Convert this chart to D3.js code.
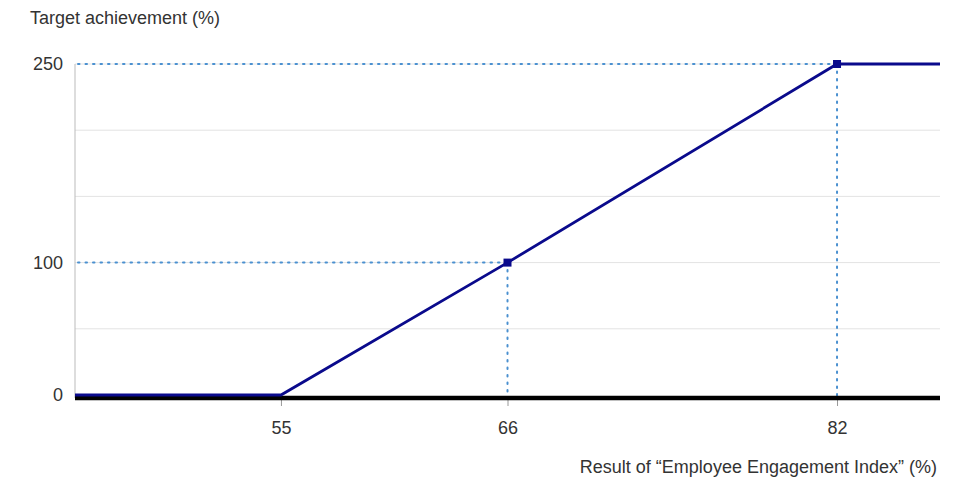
<!DOCTYPE html>
<html><head><meta charset="utf-8">
<script src="https://cdn.jsdelivr.net/npm/d3@7"></script>
<style>body{margin:0;background:#fff}text{font-family:"Liberation Sans",Arial,sans-serif;fill:#333}</style>
</head><body><svg id="c" width="968" height="483"></svg>
<script>
const xValues = [45, 55, 66, 82, 87];
const yValues = [0, 0, 100, 250, 250];
const markerX = [66, 82];
const markerY = [100, 250];
const xTicks = [55, 66, 82];
const yTickLabels = [0, 100, 250];
const yGrid = [50, 100, 150, 200, 250];
const yTitle = "Target achievement (%)";
const xTitle = "Result of \u201cEmployee Engagement Index\u201d (%)";

const svg = d3.select("#c");
const L = 75, R = 940, T = 64, B = 395;
const x = d3.scaleLinear().domain([45, 87]).range([L, R]);
const y = d3.scaleLinear().domain([0, 250]).range([B, T]);
const FS = 18;

// gridlines
svg.append("g").selectAll("line").data(yGrid).join("line")
  .attr("x1", L).attr("x2", R).attr("y1", d => y(d)).attr("y2", d => y(d))
  .attr("stroke", "#e3e3e3").attr("stroke-width", 1);

// y axis line
svg.append("line").attr("x1", L).attr("x2", L).attr("y1", T).attr("y2", B + 3)
  .attr("stroke", "#bbb").attr("stroke-width", 1);

// y labels
svg.append("g").selectAll("text").data(yTickLabels).join("text")
  .attr("x", L - 12).attr("y", d => y(d)).attr("dy", "0.35em")
  .attr("text-anchor", "end").attr("font-size", FS).text(d => d);

// x ticks
const xAxis = d3.axisBottom(x).tickValues(xTicks).tickSize(8).tickPadding(15).tickFormat(d3.format("d"));
const gx = svg.append("g").attr("transform", `translate(0,${B + 3})`).call(xAxis);
gx.select(".domain").remove();
gx.selectAll(".tick line").attr("stroke", "#999");
gx.selectAll(".tick text").attr("font-size", FS).attr("fill", "#333").style("font-family", '"Liberation Sans",Arial,sans-serif');

// dotted guides
const guides = svg.append("g").attr("stroke", "#4a90d0").attr("stroke-width", 2)
  .attr("stroke-dasharray", "1.5,6").attr("stroke-linecap", "round");
markerX.forEach((mx, i) => {
  guides.append("line").attr("x1", L + 3).attr("x2", x(mx)).attr("y1", y(markerY[i])).attr("y2", y(markerY[i]));
  guides.append("line").attr("x1", x(mx)).attr("x2", x(mx)).attr("y1", y(markerY[i])).attr("y2", B + 2);
});

// thick x axis
svg.append("line").attr("x1", L).attr("x2", R).attr("y1", B + 3).attr("y2", B + 3)
  .attr("stroke", "#000").attr("stroke-width", 4.5);

// data line
const pts = xValues.map((v, i) => [v, yValues[i]]);
svg.append("path").datum(pts)
  .attr("d", d3.line().x(d => x(d[0])).y(d => y(d[1])))
  .attr("fill", "none").attr("stroke", "#0a0a8c").attr("stroke-width", 2.8);

// markers
svg.append("g").selectAll("rect").data(markerX).join("rect")
  .attr("x", d => x(d) - 4).attr("y", (d, i) => y(markerY[i]) - 4)
  .attr("width", 8).attr("height", 8).attr("fill", "#0a0a8c");

// titles
svg.append("text").attr("x", 30).attr("y", 24).attr("font-size", FS).text(yTitle);
svg.append("text").attr("x", 937).attr("y", 473).attr("text-anchor", "end").attr("font-size", FS).text(xTitle);
</script></body></html>
